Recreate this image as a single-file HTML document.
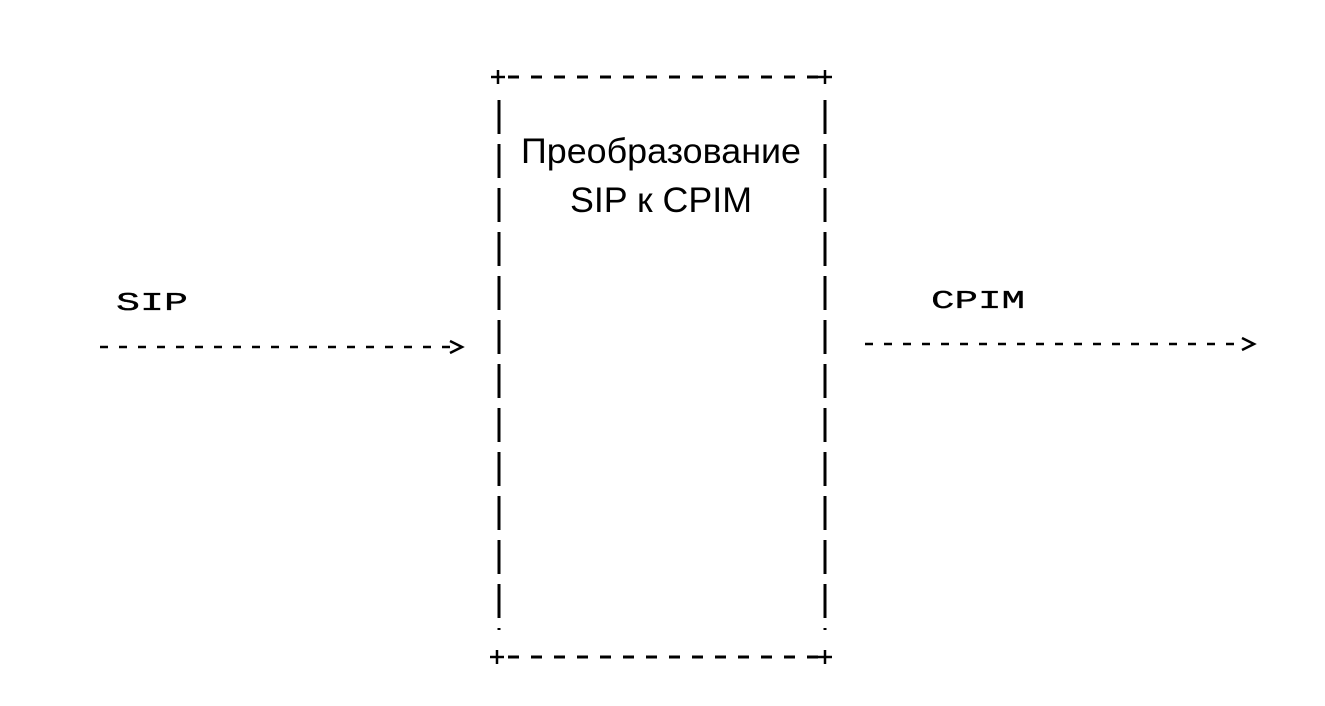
<!DOCTYPE html>
<html><head><meta charset="utf-8"><style>
html,body{margin:0;padding:0;background:#fff;}
svg{display:block}
</style></head><body>
<svg width="1325" height="706" viewBox="0 0 1325 706" xmlns="http://www.w3.org/2000/svg">
<g stroke="#000" fill="none">
  <line x1="508" y1="77" x2="818" y2="77" stroke-width="3" stroke-dasharray="11 12"/>
  <line x1="508" y1="657" x2="818" y2="657" stroke-width="3" stroke-dasharray="11 12"/>
  <g stroke-width="2.5">
    <line x1="491" y1="77" x2="505" y2="77"/><line x1="498" y1="70" x2="498" y2="84"/>
    <line x1="818" y1="77" x2="832" y2="77"/><line x1="825" y1="70" x2="825" y2="84"/>
    <line x1="490" y1="657" x2="504" y2="657"/><line x1="497" y1="650" x2="497" y2="664"/>
    <line x1="818" y1="657" x2="832" y2="657"/><line x1="825" y1="650" x2="825" y2="664"/>
  </g>
  <line x1="499" y1="100" x2="499" y2="630" stroke-width="3" stroke-dasharray="34 10"/>
  <line x1="825" y1="100" x2="825" y2="630" stroke-width="3" stroke-dasharray="34 10"/>
  <line x1="100" y1="347" x2="450" y2="347" stroke-width="2.5" stroke-dasharray="8 11"/>
  <polyline points="450,341 462,347 450,353" stroke-width="2.5"/>
  <line x1="865" y1="344" x2="1240" y2="344" stroke-width="2.5" stroke-dasharray="8 11"/>
  <polyline points="1242,338 1254,344 1242,350" stroke-width="2.5"/>
</g>
<g font-family="Liberation Sans, sans-serif" font-size="35" fill="#000">
  <text x="521" y="163" textLength="280" lengthAdjust="spacingAndGlyphs">Преобразование</text>
  <text x="570" y="212" textLength="182" lengthAdjust="spacingAndGlyphs">SIP к CPIM</text>
</g>
<g font-family="Liberation Mono, monospace" font-size="26" fill="#000" stroke="#000" stroke-width="0.3">
  <text x="116" y="310" textLength="72" lengthAdjust="spacingAndGlyphs">SIP</text>
  <text x="931" y="308" textLength="94" lengthAdjust="spacingAndGlyphs">CPIM</text>
</g>
</svg>
</body></html>
